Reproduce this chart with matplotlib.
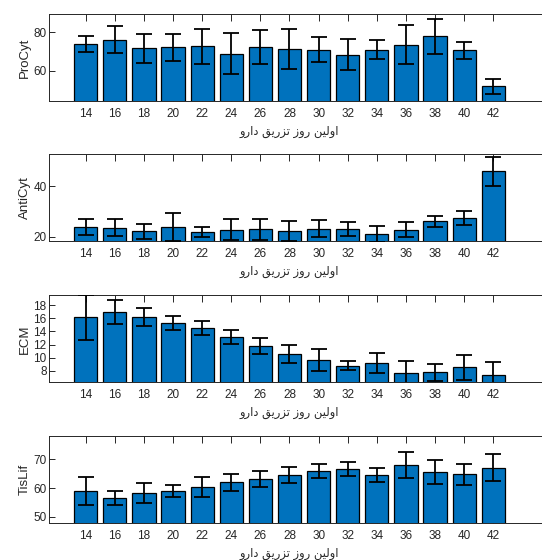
import numpy as np
import matplotlib
matplotlib.use('Agg')
import matplotlib.pyplot as plt
from matplotlib.transforms import blended_transform_factory

plt.rcParams['font.family'] = ['Liberation Sans', 'DejaVu Sans']

## data

days = [14, 16, 18, 20, 22, 24, 26, 28, 30, 32, 34, 36, 38, 40, 42]

procyt = [74.1, 76.3, 71.7, 72.2, 72.7, 69.0, 72.3, 71.5, 71.1, 68.5, 71.1, 73.7, 77.9, 70.6, 52.0]
procyt_err = [4.2, 7.0, 7.5, 7.0, 9.2, 10.6, 8.9, 10.4, 6.3, 8.2, 4.9, 10.1, 8.9, 4.2, 3.8]

anticyt = [24.0, 23.6, 22.1, 24.0, 21.9, 22.8, 22.9, 22.4, 23.2, 23.1, 21.2, 22.8, 26.1, 27.6, 46.0]
anticyt_err = [3.2, 3.5, 2.9, 5.6, 2.0, 4.3, 4.1, 4.0, 3.3, 2.9, 3.2, 3.1, 2.1, 2.8, 5.9]

ecm = [16.13, 16.94, 16.18, 15.27, 14.5, 13.15, 11.79, 10.58, 9.67, 8.81, 9.21, 7.75, 7.8, 8.56, 7.39]
ecm_err = [3.35, 1.87, 1.41, 1.01, 1.06, 1.01, 1.16, 1.41, 1.72, 0.71, 1.52, 1.72, 1.26, 1.92, 1.97]

tislif = [58.97, 56.55, 58.28, 58.97, 60.34, 61.95, 63.1, 64.48, 65.75, 66.55, 64.48, 67.93, 65.5, 64.7, 67.0]
tislif_err = [4.83, 2.3, 3.45, 2.18, 3.45, 2.99, 2.87, 2.76, 2.41, 2.53, 2.3, 4.37, 4.25, 3.68, 4.6]

xlabel_text = 'اولین روز تزریق دارو'

panels = [
    ('ProCyt', procyt, procyt_err, (44.3, 89.6), [60, 80]),
    ('AntiCyt', anticyt, anticyt_err, (18.27, 52.9), [20, 40]),
    ('ECM', ecm, ecm_err, (6.28, 19.5), [8, 10, 12, 14, 16, 18]),
    ('TisLif', tislif, tislif_err, (47.9, 78.0), [50, 60, 70]),
]

# matplotlib has no arabic shaping, so pick presentation forms by hand
FORMS = {  # isolated, final, initial, medial
    'ا': ('\uFE8D', '\uFE8E', None, None),
    'و': ('\uFEED', '\uFEEE', None, None),
    'ل': ('\uFEDD', '\uFEDE', '\uFEDF', '\uFEE0'),
    'ی': ('\uFBFC', '\uFBFD', '\uFEF3', '\uFEF4'),
    'ن': ('\uFEE5', '\uFEE6', '\uFEE7', '\uFEE8'),
    'ر': ('\uFEAD', '\uFEAE', None, None),
    'ز': ('\uFEAF', '\uFEB0', None, None),
    'ت': ('\uFE95', '\uFE96', '\uFE97', '\uFE98'),
    'ق': ('\uFED5', '\uFED6', '\uFED7', '\uFED8'),
    'د': ('\uFEA9', '\uFEAA', None, None),
}


def shape(text):
    out = []
    for i, ch in enumerate(text):
        if ch not in FORMS:
            out.append(ch)
            continue
        prev = text[i - 1] if i > 0 else ' '
        nxt = text[i + 1] if i + 1 < len(text) else ' '
        iso, fin, ini, med = FORMS[ch]
        join_prev = prev in FORMS and FORMS[prev][2] is not None
        join_next = nxt in FORMS and ini is not None
        if join_prev and join_next:
            out.append(med)
        elif join_prev:
            out.append(fin)
        elif join_next:
            out.append(ini)
        else:
            out.append(iso)
    return ''.join(reversed(out))


W, H = 542, 560
fig = plt.figure(figsize=(W / 100, H / 100), dpi=100)

left_px = 49.3
right_px = 560
tops = [14, 154, 295.3, 436]
ax_h = 87

AXC = '#262626'

for (name, vals, errs, ylim, yticks), top in zip(panels, tops):
    ax = fig.add_axes([left_px / W, 1 - (top + ax_h) / H, (right_px - left_px) / W, ax_h / H])
    ax.bar(days, vals, width=1.6, color='#0072BD', edgecolor='black', linewidth=0.9, zorder=2)
    ax.errorbar(days, vals, yerr=errs, fmt='none', ecolor='black', elinewidth=1.3,
                capsize=5.5, capthick=1.3, zorder=3)
    ax.set_xlim(11.5, 11.5 + (right_px - left_px) / 14.557)
    ax.set_ylim(*ylim)
    ax.set_xticks(days)
    ax.set_yticks(yticks)
    ax.spines['right'].set_visible(False)
    for s in ['left', 'bottom', 'top']:
        ax.spines[s].set_color(AXC)
        ax.spines[s].set_linewidth(0.7)
    ax.tick_params(axis='x', direction='in', top=True, length=5, width=0.7,
                   colors=AXC, labelsize=8.5, pad=5)
    ax.tick_params(axis='y', direction='in', length=4, width=0.7,
                   colors=AXC, labelsize=8.5, pad=2)
    ax.set_ylabel(name, fontsize=9.5, color=AXC, labelpad=2)
    trans = blended_transform_factory(ax.transData, ax.transAxes)
    ax.text(28, -0.345, shape(xlabel_text), transform=trans, ha='center', va='center',
            fontsize=8.3, color=AXC, family=['DejaVu Sans'])

fig.savefig('out.png', dpi=100)
